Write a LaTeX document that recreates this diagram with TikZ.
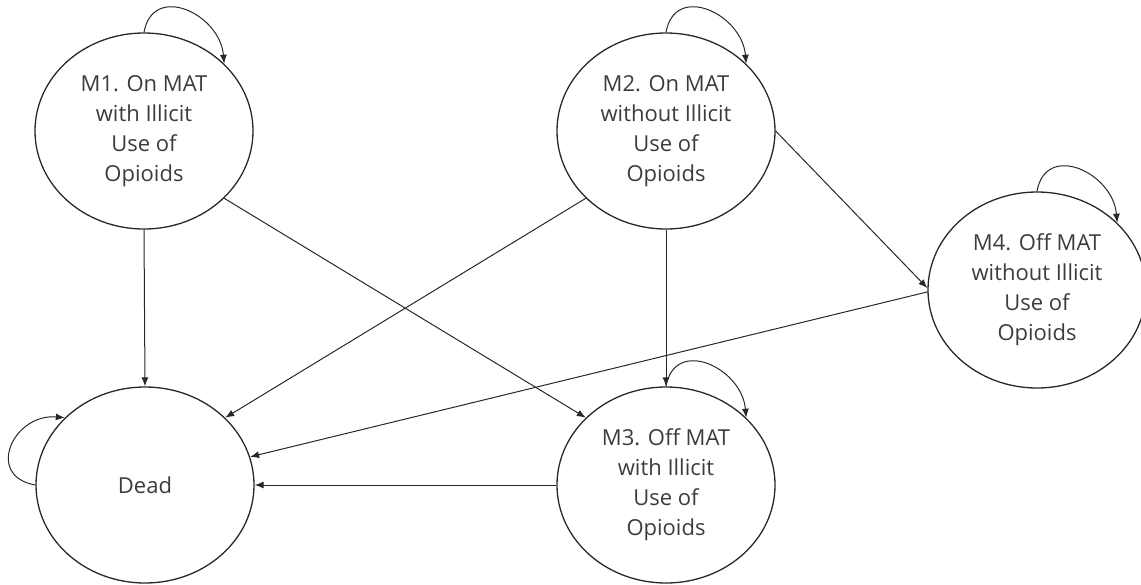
\documentclass[tikz,border=0pt]{standalone}
\usepackage{fontspec}
\setmainfont{Open Sans}
\usepackage{tikz}
\usetikzlibrary{arrows.meta,shapes}
\definecolor{txtgray}{RGB}{60,60,60}
\definecolor{linegray}{RGB}{40,40,40}
\tikzstyle{state}=[ellipse,draw=linegray,line width=1.3pt,minimum width=218pt,minimum height=196pt,inner sep=0pt,align=center,text=txtgray,font=\fontsize{22}{30}\selectfont]
\tikzstyle{edge} = [draw,line width=1pt,draw=linegray,->,>={Latex[length=9pt,width=7pt]}]
\tikzstyle{selfloop} = [edge,looseness=1.5]

\begin{document}
\begin{tikzpicture}[x=1pt,y=-1pt]
    \useasboundingbox (0,0) rectangle (1141,584);
    % the five states
    \foreach \pos/\name/\txt in {{(144,131)/M1/{M1. On MAT\\with Illicit\\Use of\\Opioids}},
        {(666,131)/M2/{M2. On MAT\\without Illicit\\Use of\\Opioids}},
        {(666,485)/M3/{M3. Off MAT\\with Illicit\\Use of\\Opioids}},
        {(1037,290)/M4/{M4. Off MAT\\without Illicit\\Use of\\Opioids}},
        {(145,485)/D/{Dead}}}
        \node[state] (\name) at \pos {\txt};

    % transitions between states
    \path[edge] (M1.south) -- (D.north);
    \path[edge] (M1.-40) -- (M3.140);
    \path[edge] (M2.-140) -- (D.40);
    \path[edge] (M2.south) -- (M3.north);
    \path[edge] (M2.east) -- (M4.179);
    \path[edge] (M4.181) -- (D.15);
    \path[edge] (M3.west) -- (D.east);

    % staying in the same state
    \foreach \name in {M1, M2, M3, M4}
        \path[selfloop] (\name.north) to[out=80,in=95] (\name.40);
    \path[selfloop] (D.west) to[out=170,in=175,looseness=1.8] (D.140);
\end{tikzpicture}
\end{document}
